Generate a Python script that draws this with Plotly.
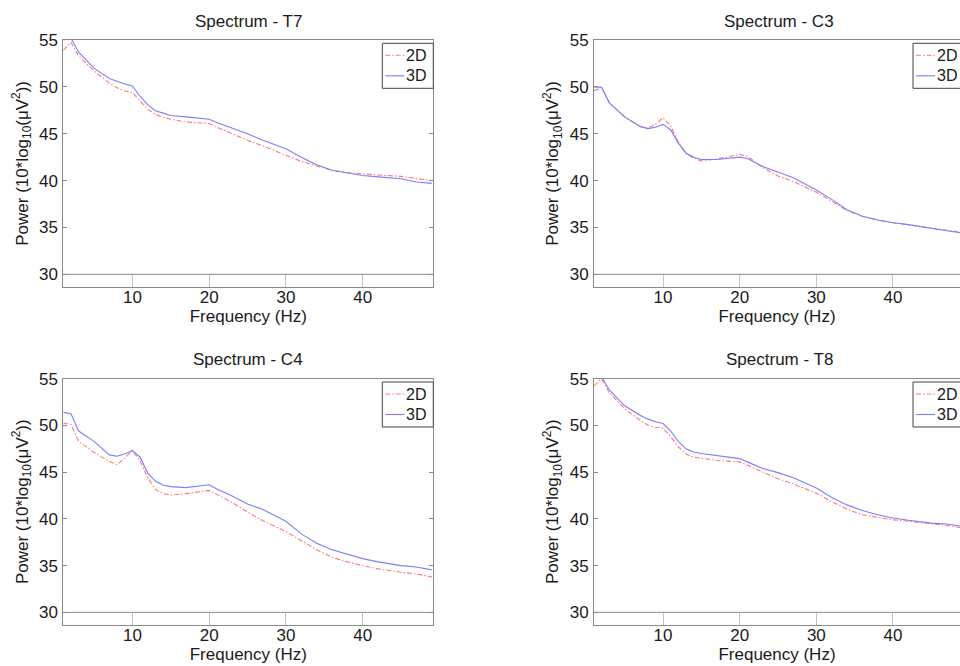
import plotly.graph_objects as go

# ---------------- data ----------------
freq = [1, 2, 3, 5, 7, 8, 9, 10, 11, 12, 13, 14, 15, 17, 20, 21, 23, 25, 27, 30,
        32, 34, 36, 38, 40, 42, 45, 47, 49]

channels = ["T7", "C3", "C4", "T8"]
series_names = ["2D", "3D"]

t7_2d = [53.9, 54.75, 53.3, 51.7, 50.4, 49.9, 49.55, 49.4, 48.5, 47.6, 47.05, 46.75, 46.55,
         46.25, 46.1, 45.7, 45.0, 44.3, 43.7, 42.75, 42.05, 41.55, 41.1, 40.85, 40.7, 40.6,
         40.45, 40.2, 40.0]
t7_3d = [55.0, 55.2, 53.7, 52.0, 50.9, 50.6, 50.3, 50.1, 49.0, 48.1, 47.45, 47.2, 46.95,
         46.8, 46.55, 46.2, 45.6, 45.0, 44.3, 43.4, 42.5, 41.7, 41.1, 40.8, 40.55, 40.4,
         40.2, 39.85, 39.7]

c3_2d = [49.6, 49.9, 48.3, 46.8, 45.75, 45.6, 46.0, 46.7, 45.8, 44.1, 42.85, 42.4, 42.1,
         42.3, 42.8, 42.6, 41.4, 40.5, 39.9, 38.75, 37.8, 36.8, 36.2, 35.8, 35.5, 35.3,
         34.9, 34.7, 34.5]
c3_3d = [50.0, 49.95, 48.3, 46.8, 45.8, 45.55, 45.7, 46.0, 45.4, 44.0, 42.95, 42.5, 42.25,
         42.25, 42.5, 42.35, 41.5, 40.9, 40.3, 39.0, 38.0, 36.9, 36.2, 35.8, 35.5, 35.3,
         34.9, 34.7, 34.4]

c4_2d = [50.25, 50.1, 48.3, 47.1, 46.15, 45.8, 46.5, 47.3, 46.2, 44.4, 43.15, 42.7, 42.55,
         42.7, 43.05, 42.6, 41.75, 40.75, 39.8, 38.65, 37.7, 36.7, 35.9, 35.4, 35.0, 34.65,
         34.3, 34.1, 33.8]
c4_3d = [51.4, 51.25, 49.4, 48.3, 46.85, 46.7, 46.95, 47.3, 46.6, 44.9, 44.05, 43.6, 43.45,
         43.35, 43.65, 43.2, 42.45, 41.6, 41.0, 39.75, 38.4, 37.4, 36.7, 36.2, 35.75, 35.4,
         35.0, 34.85, 34.55]

t8_2d = [54.25, 55.0, 53.5, 51.8, 50.55, 50.05, 49.8, 49.7, 48.8, 47.7, 46.95, 46.6, 46.5,
         46.25, 46.1, 45.75, 45.0, 44.3, 43.75, 42.75, 41.85, 41.05, 40.45, 40.15, 39.9,
         39.75, 39.5, 39.3, 39.05]
t8_3d = [55.6, 55.2, 53.8, 52.1, 51.1, 50.7, 50.4, 50.2, 49.4, 48.3, 47.5, 47.15, 47.0,
         46.75, 46.45, 46.1, 45.4, 44.95, 44.4, 43.3, 42.3, 41.5, 40.9, 40.45, 40.1, 39.85,
         39.55, 39.45, 39.2]

series_2d = [t7_2d, c3_2d, c4_2d, t8_2d]
series_3d = [t7_3d, c3_3d, c4_3d, t8_3d]

x_ticks = [10, 20, 30, 40]
y_ticks = [30, 35, 40, 45, 50, 55]

# ---------------- styling ----------------
W, H = 960, 666
FONT = "Arial, Liberation Sans, sans-serif"
AX = "#8a8a8a"
TXT = "#1a1a1a"
RED = "rgb(255,120,120)"
BLUE = "rgb(125,125,255)"
DASH_2D = "5px,2px,1.5px,2px"

# pixel boxes: (left, right, top, bottom); full width of each axes box is 370 px
boxes = [
    (63.3, 433.3, 40.0, 286.7),
    (594.0, 960.0, 40.0, 286.7),
    (63.3, 433.3, 378.7, 624.7),
    (594.0, 960.0, 378.7, 624.7),
]
BOX_W = 370.0
x_ranges = [[1.0, 49.2], [1.0, 48.74], [1.0, 49.2], [1.0, 48.74]]
y_range = [28.68, 55.0]

fig = go.Figure()
annotations = []
shapes = []

for i, ch in enumerate(channels):
    l, r, t, b = boxes[i]
    xa = "xaxis" if i == 0 else f"xaxis{i+1}"
    ya = "yaxis" if i == 0 else f"yaxis{i+1}"
    xr = "x" if i == 0 else f"x{i+1}"
    yr = "y" if i == 0 else f"y{i+1}"
    right_col = i in (1, 3)

    fig.add_trace(go.Scatter(x=freq, y=series_2d[i], mode="lines", name=series_names[0],
                             line=dict(color=RED, width=1.1, dash=DASH_2D),
                             xaxis=xr, yaxis=yr, showlegend=False))
    fig.add_trace(go.Scatter(x=freq, y=series_3d[i], mode="lines", name=series_names[1],
                             line=dict(color=BLUE, width=1.1),
                             xaxis=xr, yaxis=yr, showlegend=False))

    fig.update_layout(**{
        xa: dict(domain=[l / W, r / W], range=x_ranges[i], tickvals=x_ticks,
                 ticks="inside", ticklen=12, tickcolor="#c4c4c4", showline=True,
                 linecolor=AX, linewidth=1, mirror=True, showgrid=False, zeroline=False,
                 tickfont=dict(size=17, color=TXT, family=FONT), anchor=yr,
                 ticklabelstandoff=-5,
                 title=dict(text="Frequency (Hz)", font=dict(size=17, color=TXT, family=FONT),
                            standoff=0),
                 automargin=False, fixedrange=True),
        ya: dict(domain=[1 - b / H, 1 - t / H], range=y_range, tickvals=y_ticks,
                 ticks="inside", ticklen=4, tickcolor=AX, showline=True, linecolor=AX,
                 linewidth=1, mirror=(False if right_col else "ticks"), showgrid=False,
                 zeroline=False, tickfont=dict(size=17, color=TXT, family=FONT), anchor=xr,
                 ticklabelstandoff=1,
                 title=dict(text="Power (10*log<sub>10</sub>(μV<sup>2</sup>))",
                            font=dict(size=17, color=TXT, family=FONT), standoff=6),
                 automargin=False, fixedrange=True),
    })

    # horizontal line at the bottom tick (30), as in the reference
    shapes.append(dict(type="line", xref=f"{xr} domain", x0=0, x1=1, yref=yr, y0=30, y1=30,
                       line=dict(color=AX, width=1)))

    # subplot title
    annotations.append(dict(text=f"Spectrum - {ch}", xref="paper", yref="paper",
                            x=(l + BOX_W / 2) / W, y=1 - (t - 19) / H,
                            xanchor="center", yanchor="middle", showarrow=False,
                            font=dict(size=17, color=TXT, family=FONT)))

    # legend box (MATLAB style) in the upper right corner of the axes
    box_r = l + BOX_W
    lx0, lx1 = box_r - 51, box_r
    ly0, ly1 = t + 3.3, t + 48.3
    shapes.append(dict(type="rect", xref="paper", yref="paper",
                       x0=lx0 / W, x1=lx1 / W, y0=1 - ly1 / H, y1=1 - ly0 / H,
                       line=dict(color="#444444", width=1), fillcolor="white", layer="above"))
    for k, (name, col, dash) in enumerate([(series_names[0], RED, DASH_2D),
                                           (series_names[1], BLUE, "solid")]):
        yy = t + 15.3 + k * 20.5
        shapes.append(dict(type="line", xref="paper", yref="paper",
                           x0=(lx0 + 3) / W, x1=(lx0 + 22) / W, y0=1 - yy / H, y1=1 - yy / H,
                           line=dict(color=col, width=1.1, dash=dash), layer="above"))
        annotations.append(dict(text=name, xref="paper", yref="paper",
                                x=(lx0 + 22) / W, y=1 - yy / H, xanchor="left",
                                yanchor="middle", showarrow=False,
                                font=dict(size=16, color=TXT, family=FONT)))

fig.update_layout(width=W, height=H, margin=dict(l=0, r=0, t=0, b=0),
                  paper_bgcolor="white", plot_bgcolor="white",
                  annotations=annotations, shapes=shapes, showlegend=False,
                  font=dict(family=FONT, color=TXT))

fig.write_html("out.html", config={"displayModeBar": False},
               post_script="document.body.style.margin='0';document.body.style.overflow='hidden';")
